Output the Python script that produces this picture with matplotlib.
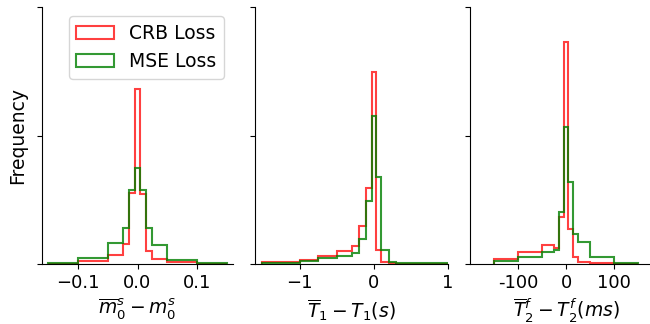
import matplotlib
matplotlib.use("Agg")
import matplotlib.pyplot as plt

# bin edges and heights (fraction of the y range)
edges_m0 = [-0.15, -0.1, -0.05, -0.025, -0.015, -0.005, 0.005, 0.015, 0.025, 0.05, 0.1, 0.15]
crb_m0 = [0.001, 0.012, 0.035, 0.077, 0.277, 0.680, 0.274, 0.051, 0.018, 0.007, 0.001]
mse_m0 = [0.005, 0.022, 0.081, 0.141, 0.288, 0.375, 0.288, 0.141, 0.075, 0.017, 0.004]

edges_t1 = [-1.5, -1.25, -1.0, -0.75, -0.5, -0.3, -0.2, -0.1, -0.03, 0.03, 0.1, 0.2, 0.3, 1.0]
crb_t1 = [0.007, 0.009, 0.017, 0.032, 0.049, 0.071, 0.146, 0.295, 0.748, 0.056, 0.006, 0.002, 0.001]
mse_t1 = [0.004, 0.004, 0.012, 0.022, 0.032, 0.042, 0.099, 0.247, 0.574, 0.340, 0.054, 0.009, 0.003]

edges_t2 = [-150, -100, -50, -25, -15, -5, 5, 15, 25, 50, 100, 150]
crb_t2 = [0.019, 0.046, 0.074, 0.062, 0.182, 0.863, 0.136, 0.026, 0.009, 0.003, 0.001]
mse_t2 = [0.013, 0.026, 0.046, 0.056, 0.204, 0.535, 0.318, 0.117, 0.084, 0.026, 0.004]

xlabels = [r"$\overline{m}_0^s - m_0^s$", r"$\overline{T}_1 - T_1(s)$", r"$\overline{T}_2^f - T_2^f(ms)$"]
xlims = [(-0.16, 0.16), (-1.6, 1.0), (-200, 200)]
xticks = [[-0.1, 0.0, 0.1], [-1, 0, 1], [-100, 0, 100]]
xticklabels = [["\u22120.1", "0.0", "0.1"], ["\u22121", "0", "1"], ["-100", "0", "100"]]

W, H = 650, 324
fig = plt.figure(figsize=(W / 100, H / 100), dpi=100)

# axes boxes in pixels: left, right
boxes = [(42, 233), (255, 448), (470, 662)]
top, bottom = 7, 264

data = [(edges_m0, crb_m0, mse_m0), (edges_t1, crb_t1, mse_t1), (edges_t2, crb_t2, mse_t2)]

for i, ((l, r), (edges, crb, mse)) in enumerate(zip(boxes, data)):
    ax = fig.add_axes([l / W, (H - bottom) / H, (r - l) / W, (bottom - top) / H])
    ax.hist(edges[:-1], bins=edges, weights=crb, histtype="step", color="red",
            alpha=0.75, lw=1.5, label="CRB Loss")
    ax.hist(edges[:-1], bins=edges, weights=mse, histtype="step", color="green",
            alpha=0.8, lw=1.5, label="MSE Loss")
    ax.set_xlim(*xlims[i])
    ax.set_ylim(0, 1)
    ax.set_yticks([0, 0.5, 1.0])
    ax.set_yticklabels([])
    ax.set_xticks(xticks[i])
    ax.set_xticklabels(xticklabels[i])
    ax.tick_params(labelsize=13)
    ax.spines["top"].set_visible(False)
    ax.spines["right"].set_visible(False)
    ax.set_xlabel(xlabels[i], fontsize=13.5)
    if i == 0:
        ax.set_ylabel("Frequency", fontsize=13.5)
        ax.legend(loc="upper right", fontsize=13.5)

fig.savefig("out.png", dpi=100)
